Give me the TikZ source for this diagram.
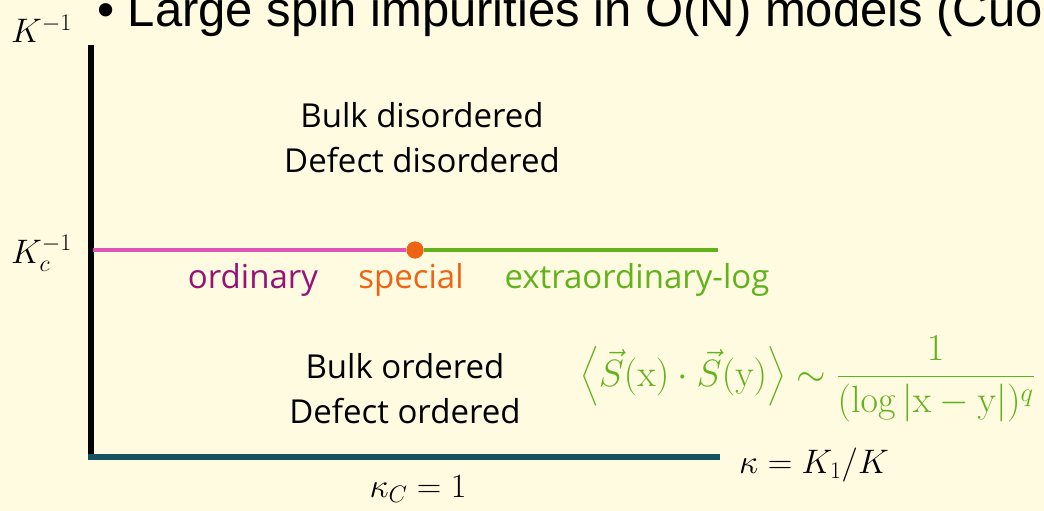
\RequirePackage{fix-cm}
\documentclass[tikz,border=0pt]{standalone}
\usepackage{amsmath}
\usepackage[no-math]{fontspec}
\setmainfont{Open Sans}
\newfontfamily\titlefont{Liberation Sans}
\usetikzlibrary{positioning}
\definecolor{bgcream}{RGB}{255,251,225}
\definecolor{axisteal}{RGB}{22,82,100}
\definecolor{ordpink}{RGB}{222,84,178}
\definecolor{ordtext}{RGB}{150,18,118}
\definecolor{specorange}{RGB}{238,100,20}
\definecolor{extgreen}{RGB}{98,178,28}

\begin{document}
\begin{tikzpicture}[x=1pt, y=-1pt,
  lbl/.style={font=\fontsize{33}{45}\selectfont, align=center, inner sep=0pt},
  mlbl/.style={font=\fontsize{34}{38}\selectfont, inner sep=0pt},
  yaxis/.style={line width=6pt, black},
  xaxis/.style={line width=6pt, axisteal},
  phase/.style={line width=4.5pt}
]
  \fill[bgcream] (0,0) rectangle (1044,511);
  \clip (0,0) rectangle (1044,511);

  % slide title, cut at the edge
  \node[anchor=base west, inner sep=0pt, font=\titlefont\fontsize{49}{54}\selectfont] (title)
    at (97,27) {\textbullet\ Large spin impurities in O(N) models (Cuo};

  % axes
  \coordinate (ytop) at (90.5,45);
  \coordinate (origin) at (90.5,457);
  \coordinate (xend) at (720,457);
  \draw[yaxis] (ytop) -- ([yshift=3pt]origin);
  \draw[xaxis] ([xshift=-3pt]origin) -- (xend);
  \node[mlbl, anchor=base west] (kinv) at (11,43) {$K^{-1}$};
  \node[mlbl, anchor=base west] (kcinv) at (11,263) {$K_c^{-1}$};
  \node[mlbl, anchor=base west] (kappa) at (739,473) {$\kappa = K_1/K$};
  \node[mlbl, anchor=base] (kappac) at (418,497) {$\kappa_C = 1$};

  % critical line
  \coordinate (kcl) at (93,250);
  \coordinate (kcr) at (718,250);
  \node[circle, fill=specorange, inner sep=0pt, minimum size=17pt] (spec) at (415,250) {};
  \draw[phase, ordpink] (kcl) -- (spec);
  \draw[phase, extgreen] (spec) -- (kcr);
  \node[circle, fill=specorange, inner sep=0pt, minimum size=17pt] at (spec) {};

  % phases
  \node[lbl, anchor=base] (disord) at (422,172) {Bulk disordered\\Defect disordered};
  \node[lbl, anchor=base, text=ordtext] (ord) at (253,288) {ordinary};
  \node[lbl, anchor=base, text=specorange] (speclbl) at (411,288) {special};
  \node[lbl, anchor=base, text=extgreen] (extlog) at (637,288) {extraordinary-log};
  \node[lbl, anchor=base] (ordered) at (405,423) {Bulk ordered\\Defect ordered};

  % correlator
  \node[anchor=base west, inner sep=0pt, text=extgreen, font=\fontsize{38}{44}\selectfont] (corr)
    at (580,386) {$\left\langle \vec{S}(\mathrm{x})\cdot\vec{S}(\mathrm{y})\right\rangle \sim \dfrac{1}{(\log|\mathrm{x}-\mathrm{y}|)^q}$};
\end{tikzpicture}
\end{document}
